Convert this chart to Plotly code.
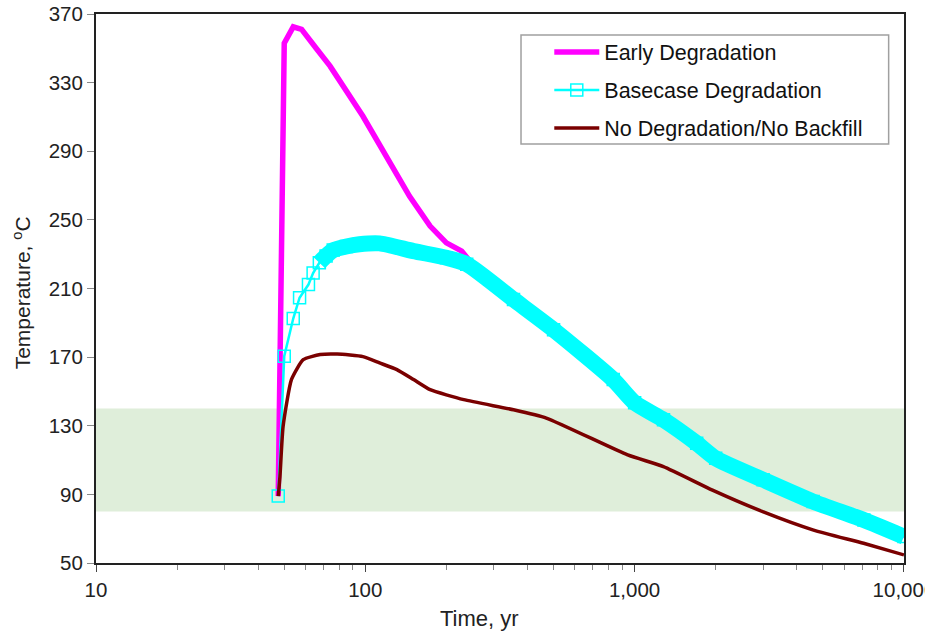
import plotly.graph_objects as go

# ---- data ----
early_t = [47.5, 50, 54, 58, 66, 74, 98, 146, 174, 200, 228, 250, 355, 500, 833, 1000,
           1280, 1700, 2000, 3000, 4600, 7100, 10000]
early_T = [89, 353, 362.5, 361, 349.6, 339.6, 310.4, 263.7, 246.4, 236.6, 231.8, 224,
           203.6, 186, 156.9, 143.4, 133.5, 119.8, 111, 98.5, 85.8, 75.1, 65.4]

base_t = [47.5, 50, 54, 57, 61.5, 64, 67.5, 71.5, 76, 85, 95, 113, 151, 200, 238, 355,
          500, 833, 1000, 1280, 1700, 2000, 3000, 4600, 7100, 10000]
base_T = [89, 170.5, 192.5, 204.6, 212.3, 219, 225, 229, 232.4, 234.5, 235.8, 236.3,
          231.8, 227.9, 224.2, 203.6, 186, 156.9, 143.4, 133.5, 119.8, 111, 98.5,
          85.8, 75.1, 65.4]

nodeg_t = [47.5, 48.2, 49.5, 53.2, 58.8, 68, 78.6, 98, 113, 131, 151, 174, 232, 355,
           470, 942, 1279, 1945, 3006, 4617, 7081, 10000]
nodeg_T = [89, 100.4, 129.6, 157, 168.5, 171.5, 171.8, 170.3, 166.6, 162.7, 156.9, 151,
           145.2, 139.3, 134.5, 113, 106.2, 92.5, 79.8, 69.2, 61.5, 54.7]

band_low, band_high = 80, 140
x_tickvals = [10, 100, 1000, 10000]
x_ticktext = ["10", "100", "1,000", "10,000"]
y_tickvals = [50, 90, 130, 170, 210, 250, 290, 330, 370]

FONT = "Liberation Sans, Arial, sans-serif"
CYAN = "#00FFFF"

fig = go.Figure()

fig.add_trace(go.Scatter(
    x=early_t, y=early_T, mode="lines", name="Early Degradation",
    line=dict(color="#FF00FF", width=5.5), legendgroup="a"))

fig.add_trace(go.Scatter(
    x=base_t, y=base_T, mode="lines+markers", name="Basecase Degradation",
    line=dict(color=CYAN, width=2.5),
    marker=dict(symbol="square-open", size=12, color=CYAN, line=dict(width=1.5, color=CYAN)),
    legendgroup="b"))

# dense overlapping markers of the basecase appear as a thick band
band_start = 6
fig.add_trace(go.Scatter(
    x=base_t[band_start:], y=base_T[band_start:], mode="lines", showlegend=False,
    line=dict(color=CYAN, width=16, shape="spline", smoothing=0.6),
    hoverinfo="skip", legendgroup="b"))

fig.add_trace(go.Scatter(
    x=nodeg_t, y=nodeg_T, mode="lines", name="No Degradation/No Backfill",
    line=dict(color="#7A0000", width=3.5, shape="spline", smoothing=0.5),
    legendgroup="c"))

fig.add_shape(type="rect", xref="paper", yref="y", x0=0, x1=1, y0=band_low, y1=band_high,
              fillcolor="#DFEEDA", line=dict(width=0), layer="below")
# legend frame
fig.add_shape(type="rect", xref="paper", yref="paper", x0=0.526, x1=0.981, y0=0.763, y1=0.9617,
              fillcolor="white", line=dict(width=1.5, color="#A0A0A0"), layer="above")

minor_vals = [m * 10 ** e for e in (1, 2, 3) for m in range(2, 10)]

fig.update_layout(
    width=925, height=632,
    margin=dict(l=96, r=21, t=14, b=69, autoexpand=False),
    paper_bgcolor="white", plot_bgcolor="white",
    font=dict(family=FONT, size=20, color="#222"),
    legend=dict(x=0.561, y=0.968, xanchor="left", yanchor="top",
                borderwidth=0, bgcolor="rgba(0,0,0,0)",
                font=dict(size=21.5, color="#111"), traceorder="grouped",
                tracegroupgap=7, itemwidth=45),
    showlegend=True,
    annotations=[
        dict(text="Time, yr", xref="paper", yref="paper", x=0.475, y=-0.1004,
             xanchor="center", yanchor="middle", showarrow=False,
             font=dict(size=22, color="#222")),
        dict(text="Temperature, <sup>o</sup>C", xref="paper", yref="paper", x=-0.0916, y=0.493,
             xanchor="center", yanchor="middle", showarrow=False, textangle=-90,
             font=dict(size=21, color="#222")),
    ],
)

fig.update_xaxes(
    type="log", range=[1, 4.0002], tickvals=x_tickvals, ticktext=x_ticktext,
    ticks="outside", ticklen=7, tickcolor="#444", tickwidth=1,
    minor=dict(tickvals=minor_vals, ticks="outside", ticklen=5, tickcolor="#888"),
    showline=True, linecolor="#222", linewidth=2, mirror=True, showgrid=False,
    zeroline=False, automargin=False, ticklabeloverflow="allow",
    tickfont=dict(size=20.5),
)
fig.update_yaxes(
    range=[50, 370], tickvals=y_tickvals,
    ticks="outside", ticklen=7, tickcolor="#888", tickwidth=1,
    showline=True, linecolor="#222", linewidth=2, mirror=True, showgrid=False,
    zeroline=False, automargin=False,
    tickfont=dict(size=20.5),
)

fig.write_html("out.html")
